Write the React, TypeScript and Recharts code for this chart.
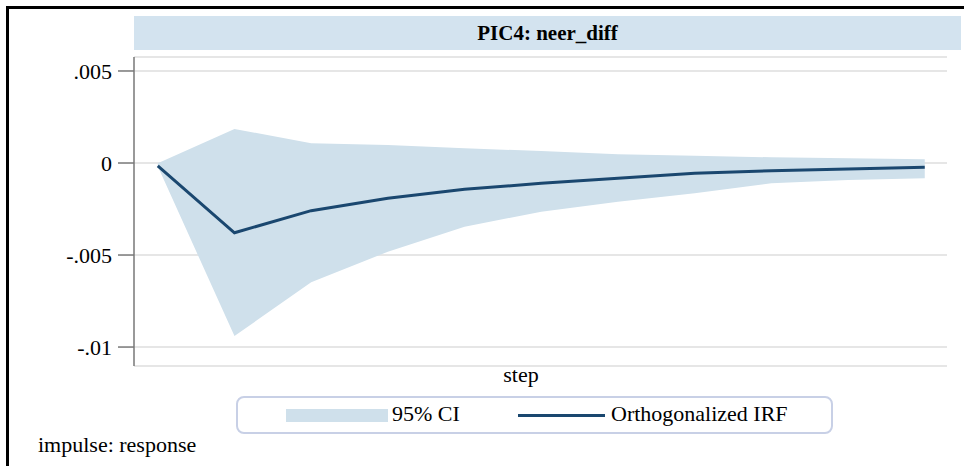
import React from "react";
import {
  ComposedChart,
  Area,
  Line,
  XAxis,
  YAxis,
  CartesianGrid,
} from "recharts";

const steps = [0, 1, 2, 3, 4, 5, 6, 7, 8, 9, 10];
const irf = [-0.00015, -0.00379, -0.00259, -0.00192, -0.00143, -0.0011, -0.00083, -0.00056, -0.00042, -0.00033, -0.00023];
const upper = [-0.00002, 0.00185, 0.00107, 0.00098, 0.0008, 0.00065, 0.00047, 0.0004, 0.00031, 0.00026, 0.0002];
const lower = [-0.00018, -0.0094, -0.00648, -0.00482, -0.00346, -0.00265, -0.0021, -0.00165, -0.0011, -0.00092, -0.00083];
const yTicks = [-0.01, -0.005, 0, 0.005];
const yTickLabels = ["-.01", "-.005", "0", ".005"];

const data = steps.map((s, i) => ({
  step: s,
  irf: irf[i],
  ci: [lower[i], upper[i]],
}));

const FONT = '"Liberation Serif", "Times New Roman", serif';
const BAND = "#cfe0eb";
const NAVY = "#1a476f";

export default function App() {
  return (
    <div
      style={{
        position: "absolute",
        left: 0,
        top: 0,
        width: 964,
        height: 466,
        background: "#fff",
        fontFamily: FONT,
        overflow: "hidden",
      }}
    >
      {/* outer frame, only top/left visible in the crop */}
      <div
        style={{
          position: "absolute",
          left: 6,
          top: 6,
          width: 1000,
          height: 1000,
          borderTop: "3px solid #000",
          borderLeft: "3px solid #000",
        }}
      />
      {/* title band */}
      <div
        style={{
          position: "absolute",
          left: 134,
          top: 16,
          width: 827,
          height: 34,
          background: "#d3e3ef",
          textAlign: "center",
          lineHeight: "34px",
          fontWeight: "bold",
          fontSize: 21,
          color: "#000",
        }}
      >
        PIC4: neer_diff
      </div>

      <div style={{ position: "absolute", left: 0, top: 0 }}>
        <ComposedChart
          width={964}
          height={466}
          data={data}
          margin={{ top: 57, right: 17, bottom: 100, left: 74 }}
        >
          <CartesianGrid vertical={false} stroke="#dedede" strokeWidth={1.5} />
          <XAxis
            dataKey="step"
            type="number"
            domain={[-0.31, 10.29]}
            allowDataOverflow
            hide
          />
          <YAxis
            type="number"
            width={60}
            domain={[-0.01103, 0.00576]}
            allowDataOverflow
            ticks={yTicks}
            tickFormatter={(v: number) => yTickLabels[yTicks.indexOf(v)] ?? String(v)}
            tickSize={16}
            tickMargin={6}
            stroke="#777"
            strokeWidth={1.5}
            tick={{ fill: "#000", fontSize: 22, fontFamily: FONT }}
          />
          <Area
            type="linear"
            dataKey="ci"
            stroke="none"
            fill={BAND}
            fillOpacity={1}
            isAnimationActive={false}
          />
          <Line
            type="linear"
            dataKey="irf"
            stroke={NAVY}
            strokeWidth={3}
            dot={false}
            isAnimationActive={false}
          />
        </ComposedChart>
      </div>

      {/* x axis title */}
      <div
        style={{
          position: "absolute",
          left: 471,
          top: 362,
          width: 100,
          textAlign: "center",
          fontSize: 22,
        }}
      >
        step
      </div>

      {/* legend */}
      <div
        style={{
          position: "absolute",
          left: 236,
          top: 396,
          width: 593,
          height: 34,
          border: "2px solid #c8d0e6",
          borderRadius: 8,
          fontSize: 22,
        }}
      >
        <div
          style={{
            position: "absolute",
            left: 48,
            top: 11,
            width: 102,
            height: 13,
            background: BAND,
          }}
        />
        <div style={{ position: "absolute", left: 154, top: 3 }}>95% CI</div>
        <div
          style={{
            position: "absolute",
            left: 280,
            top: 16,
            width: 87,
            height: 3,
            background: NAVY,
          }}
        />
        <div style={{ position: "absolute", left: 373, top: 3 }}>
          Orthogonalized IRF
        </div>
      </div>

      <div style={{ position: "absolute", left: 38, top: 432, fontSize: 22 }}>
        impulse: response
      </div>
    </div>
  );
}
